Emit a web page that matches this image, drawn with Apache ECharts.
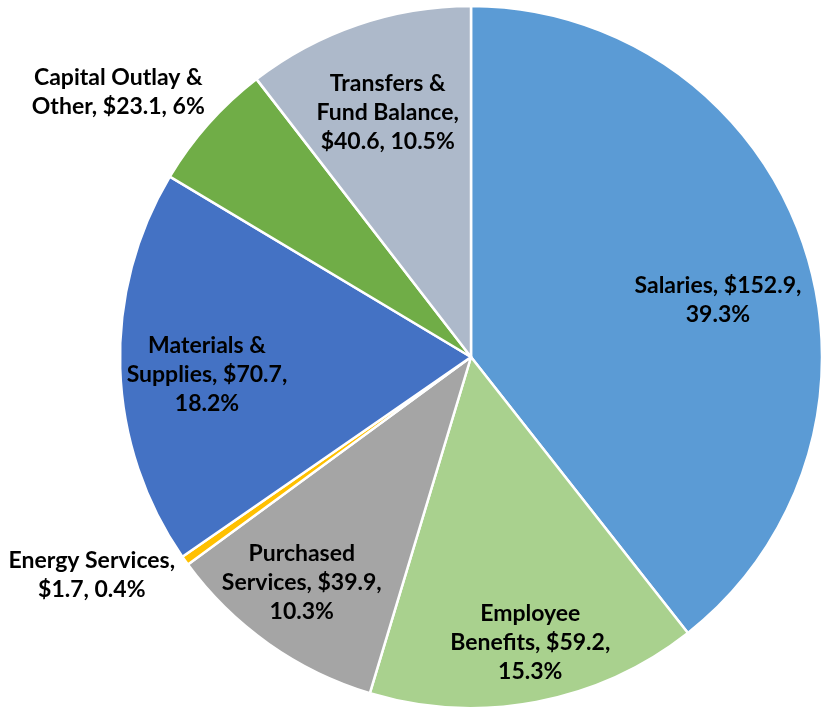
<!DOCTYPE html>
<html>
<head>
<meta charset="utf-8">
<script src="https://cdn.jsdelivr.net/npm/echarts@6/dist/echarts.min.js"></script>
<style>
html,body{margin:0;padding:0;background:#fff;}
#chart{width:825px;height:709px;}
</style>
</head>
<body>
<div id="chart"></div>
<script>
// ---- data ----
const categories = ["Salaries", "Employee Benefits", "Purchased Services", "Energy Services", "Materials & Supplies", "Capital Outlay & Other", "Transfers & Fund Balance"];
const values = [152.9, 59.2, 39.9, 1.7, 70.7, 23.1, 40.6];
const percents = ["39.3%", "15.3%", "10.3%", "0.4%", "18.2%", "6%", "10.5%"];
const labelTexts = [
  "Salaries, $152.9,\n39.3%",
  "Employee\nBenefits, $59.2,\n15.3%",
  "Purchased\nServices, $39.9,\n10.3%",
  "Energy Services,\n$1.7, 0.4%",
  "Materials &\nSupplies, $70.7,\n18.2%",
  "Capital Outlay &\nOther, $23.1, 6%",
  "Transfers &\nFund Balance,\n$40.6, 10.5%"
];

// ---- styles ----
const colors = ["#5B9BD5", "#A9D18E", "#A5A5A5", "#FFC000", "#4472C4", "#70AD47", "#ADB9CA"];
const pieCenter = [471, 357];
const pieRadius = 351;
const labelRadius = [0.722, 0.832, 0.804, 1.247, 0.754, 1.257, 0.735];   // fraction of pie radius
const labelTurnDeg = [6.1, -1.0, 1.6, 5.5, -2.0, -4.7, 0.0];             // angular nudge from slice mid-angle

const chart = echarts.init(document.getElementById('chart'), null, {renderer: 'canvas'});

// mid-angle of each slice (screen coords, clockwise from 12 o'clock)
const total = values.reduce(function (a, b) { return a + b; }, 0);
function midAngle(i) {
  let before = 0;
  for (let k = 0; k < i; k++) before += values[k];
  const frac = (before + values[i] / 2) / total;
  return -Math.PI / 2 + frac * 2 * Math.PI;
}

const option = {
  backgroundColor: '#ffffff',
  animation: false,
  series: [{
    type: 'pie',
    center: pieCenter,
    radius: [0, pieRadius],
    startAngle: 90,
    clockwise: true,
    avoidLabelOverlap: false,
    itemStyle: {borderColor: '#ffffff', borderWidth: 2.5},
    label: {
      show: true,
      position: 'inside',
      color: '#000000',
      fontFamily: 'Lato',
      fontWeight: 'bold',
      fontSize: 23,
      lineHeight: 29,
      align: 'center',
      formatter: function (p) { return labelTexts[p.dataIndex]; }
    },
    labelLine: {show: false},
    labelLayout: function (params) {
      const i = params.dataIndex;
      const mid = midAngle(i) + labelTurnDeg[i] * Math.PI / 180;
      const rr = pieRadius * labelRadius[i];
      return {
        x: pieCenter[0] + rr * Math.cos(mid),
        y: pieCenter[1] + rr * Math.sin(mid),
        align: 'center',
        verticalAlign: 'middle'
      };
    },
    data: categories.map(function (c, i) {
      return {name: c, value: values[i], itemStyle: {color: colors[i]}};
    })
  }]
};
chart.setOption(option);
</script>
</body>
</html>
